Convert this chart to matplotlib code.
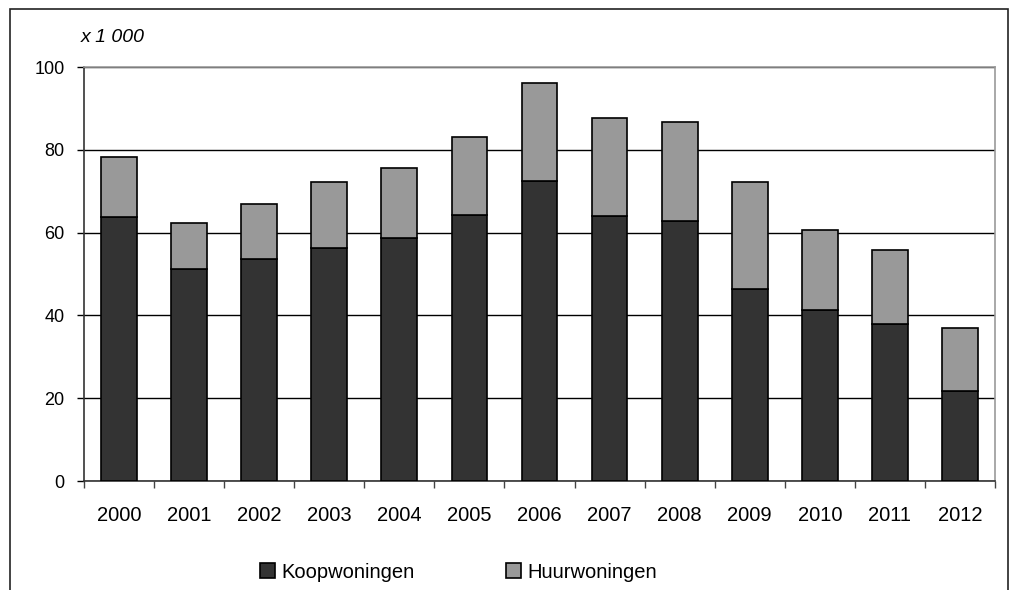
import matplotlib
matplotlib.use('Agg')
import numpy as np
import matplotlib.pyplot as plt
from matplotlib.patches import Rectangle

years = ['2000', '2001', '2002', '2003', '2004', '2005', '2006',
         '2007', '2008', '2009', '2010', '2011', '2012']
koop = [63.8, 51.1, 53.6, 56.2, 58.7, 64.3, 72.4, 63.9, 62.9, 46.3, 41.3, 37.9, 21.7]
totaal = [78.3, 62.2, 66.8, 72.3, 75.7, 83.1, 96.1, 87.6, 86.8, 72.3, 60.7, 55.7, 37.0]
huur = [t - k for t, k in zip(totaal, koop)]

plt.rcParams['font.family'] = ['Liberation Sans', 'DejaVu Sans']

fig = plt.figure(figsize=(10.1, 5.9), dpi=100)
W, H = 1010, 590
ax = fig.add_axes([84 / W, 1 - 481 / H, (995 - 84) / W, (481 - 67) / H])

# outer frame of the chart (bottom edge falls outside the picture)
fig.patches.append(Rectangle((10 / W, -0.05), (1008 - 10) / W, 1 - 9 / H + 0.05,
                             transform=fig.transFigure, fill=False,
                             edgecolor='#222222', linewidth=1.2))

x = np.arange(len(years))
ax.bar(x, koop, width=0.51, color='#333333', edgecolor='black', linewidth=1.2,
       label='Koopwoningen', zorder=3)
ax.bar(x, huur, width=0.51, bottom=koop, color='#999999', edgecolor='black',
       linewidth=1.2, label='Huurwoningen', zorder=3)

ax.set_xlim(-0.5, len(years) - 0.5)
ax.set_ylim(0, 100)
ax.set_yticks([0, 20, 40, 60, 80, 100])
ax.yaxis.grid(True, color='black', linewidth=1.0, zorder=0)
ax.set_axisbelow(True)

ax.set_xticks(x)
ax.set_xticklabels(years)
ax.set_xticks(np.arange(len(years) + 1) - 0.5, minor=True)
ax.tick_params(axis='x', which='major', length=0, pad=18, labelsize=14.5)
ax.tick_params(axis='x', which='minor', length=5, direction='out', width=1, color='#444444')
ax.tick_params(axis='y', length=5, direction='out', width=1, labelsize=13, pad=9)

ax.spines['left'].set_color('#333333')
ax.spines['bottom'].set_color('#333333')
ax.spines['top'].set_color('#999999')
ax.spines['right'].set_color('#999999')
for s in ax.spines.values():
    s.set_linewidth(1.2)

fig.text(81 / W, 1 - 37 / H, 'x 1 000', fontsize=14, fontstyle='italic', va='center')

fig.legend(loc='center left', bbox_to_anchor=(260 / W, 1 - 572 / H), ncol=2,
           frameon=False, fontsize=14.5, handlelength=0.75, handleheight=0.75,
           columnspacing=4.5, handletextpad=0.33, borderpad=0, borderaxespad=0)

fig.savefig('out.png', dpi=100)
